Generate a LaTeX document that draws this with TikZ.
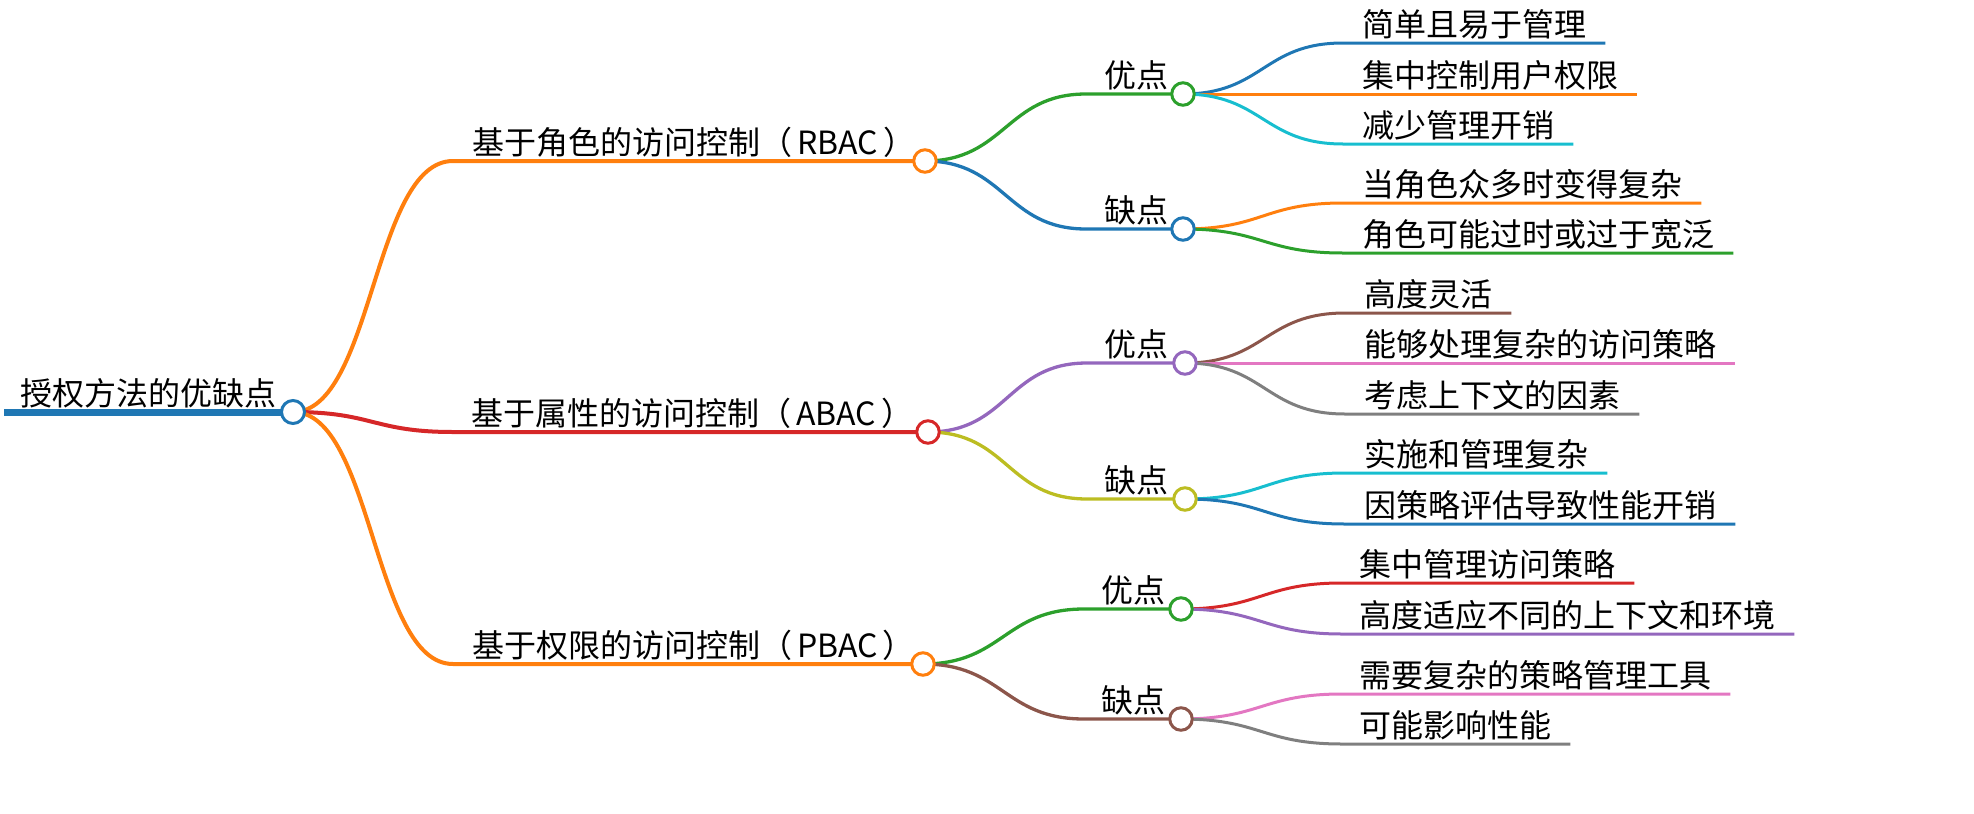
\documentclass[tikz,border=0pt]{standalone}
\usepackage{fontspec}
\setmainfont{Noto Sans CJK SC}
\usetikzlibrary{calc}
\definecolor{cB}{HTML}{1F77B4}
\definecolor{cO}{HTML}{FF7F0E}
\definecolor{cG}{HTML}{2CA02C}
\definecolor{cR}{HTML}{D62728}
\definecolor{cP}{HTML}{9467BD}
\definecolor{cBr}{HTML}{8C564B}
\definecolor{cPk}{HTML}{E377C2}
\definecolor{cGy}{HTML}{7F7F7F}
\definecolor{cOl}{HTML}{BCBD22}
\definecolor{cC}{HTML}{17BECF}
\pgfdeclarelayer{bg}
\pgfsetlayers{bg,main}
\begin{document}
\begin{tikzpicture}[x=1pt,y=-1pt,
  txt/.style={inner sep=0pt, anchor=base west, font=\fontsize{32}{36}\selectfont},
  dot/.style={circle, draw=#1, fill=white, line width=3pt, minimum size=22.5pt, inner sep=0pt},
  lone/.style={draw=#1, line width=4pt},
  ltwo/.style={draw=#1, line width=3.3pt},
  lleaf/.style={draw=#1, line width=3pt}]
\useasboundingbox (0,0) rectangle (1974,814);

% root
\node[txt] (root) at (20,405) {授权方法的优缺点};
\node[dot=cB, minimum size=23pt] (rc) at (293,412) {};
\coordinate (r0) at (4,412);

% level 1
\node[txt] (at) at (472,154) {基于角色的访问控制（\hspace{5pt}RBAC\hspace{5pt}）};
\node[dot=cO] (ac) at (925,161) {};
\coordinate (ak) at (453,161);
\node[txt] (bt) at (471,425) {基于属性的访问控制（\hspace{5pt}ABAC\hspace{5pt}）};
\node[dot=cR] (bc) at (928,432) {};
\coordinate (bk) at (453,432);
\node[txt] (ct) at (472,657) {基于权限的访问控制（\hspace{5pt}PBAC\hspace{5pt}）};
\node[dot=cO] (cc) at (923,664) {};
\coordinate (ck) at (453,664);

% level 2
\node[txt] (apt) at (1104,87) {优点};
\node[dot=cG] (apc) at (1183,94) {};
\coordinate (apk) at (1086,94);
\node[txt] (amt) at (1104,222) {缺点};
\node[dot=cB] (amc) at (1183,229) {};
\coordinate (amk) at (1086,229);

\node[txt] (bpt) at (1104,356) {优点};
\node[dot=cP] (bpc) at (1185,363) {};
\coordinate (bpk) at (1087,363);
\node[txt] (bmt) at (1104,492) {缺点};
\node[dot=cOl] (bmc) at (1185,499) {};
\coordinate (bmk) at (1087,499);

\node[txt] (cpt) at (1101,602) {优点};
\node[dot=cG] (cpc) at (1181,609) {};
\coordinate (cpk) at (1084,609);
\node[txt] (cmt) at (1101,712) {缺点};
\node[dot=cBr] (cmc) at (1181,719) {};
\coordinate (cmk) at (1084,719);

% leaves
\node[txt] (l1) at (1362,36) {简单且易于管理};
\coordinate (k1) at (1343,43);
\node[txt] (l2) at (1362,87) {集中控制用户权限};
\coordinate (k2) at (1343,94);
\node[txt] (l3) at (1362,137) {减少管理开销};
\coordinate (k3) at (1343,144);
\node[txt] (l4) at (1362,196) {当角色众多时变得复杂};
\coordinate (k4) at (1343,203);
\node[txt] (l5) at (1362,246) {角色可能过时或过于宽泛};
\coordinate (k5) at (1343,253);

\node[txt] (l6) at (1364,306) {高度灵活};
\coordinate (k6) at (1345,313);
\node[txt] (l7) at (1364,356) {能够处理复杂的访问策略};
\coordinate (k7) at (1345,363);
\node[txt] (l8) at (1364,407) {考虑上下文的因素};
\coordinate (k8) at (1345,414);
\node[txt] (l9) at (1364,466) {实施和管理复杂};
\coordinate (k9) at (1345,473);
\node[txt] (l10) at (1364,517) {因策略评估导致性能开销};
\coordinate (k10) at (1345,524);

\node[txt] (l11) at (1359,576) {集中管理访问策略};
\coordinate (k11) at (1342,583);
\node[txt] (l12) at (1359,627) {高度适应不同的上下文和环境};
\coordinate (k12) at (1342,634);
\node[txt] (l13) at (1359,687) {需要复杂的策略管理工具};
\coordinate (k13) at (1342,694);
\node[txt] (l14) at (1359,737) {可能影响性能};
\coordinate (k14) at (1342,744);

\begin{pgfonlayer}{bg}
\draw[cB, line width=7pt] (r0) -- (rc.center);
% root -> level 1
\draw[lone=cO] (rc.center) .. controls +(80,0) and +(-80,0) .. (ak) -- (ac.center);
\draw[lone=cR] (rc.center) .. controls +(80,0) and +(-80,0) .. (bk) -- (bc.center);
\draw[lone=cO] (rc.center) .. controls +(80,0) and +(-80,0) .. (ck) -- (cc.center);
% level 1 -> level 2
\draw[ltwo=cG] (ac.center) .. controls +(80,0) and +(-80,0) .. (apk) -- (apc.center);
\draw[ltwo=cB] (ac.center) .. controls +(80,0) and +(-80,0) .. (amk) -- (amc.center);
\draw[ltwo=cP] (bc.center) .. controls +(80,0) and +(-80,0) .. (bpk) -- (bpc.center);
\draw[ltwo=cOl] (bc.center) .. controls +(80,0) and +(-80,0) .. (bmk) -- (bmc.center);
\draw[ltwo=cG] (cc.center) .. controls +(80,0) and +(-80,0) .. (cpk) -- (cpc.center);
\draw[ltwo=cBr] (cc.center) .. controls +(80,0) and +(-80,0) .. (cmk) -- (cmc.center);
% level 2 -> leaves
\draw[lleaf=cB] (apc.center) .. controls +(80,0) and +(-80,0) .. (k1) -- ($(l1.base east)+(19,7)$);
\draw[lleaf=cO] (apc.center) .. controls +(80,0) and +(-80,0) .. (k2) -- ($(l2.base east)+(19,7)$);
\draw[lleaf=cC] (apc.center) .. controls +(80,0) and +(-80,0) .. (k3) -- ($(l3.base east)+(19,7)$);
\draw[lleaf=cO] (amc.center) .. controls +(80,0) and +(-80,0) .. (k4) -- ($(l4.base east)+(19,7)$);
\draw[lleaf=cG] (amc.center) .. controls +(80,0) and +(-80,0) .. (k5) -- ($(l5.base east)+(19,7)$);
\draw[lleaf=cBr] (bpc.center) .. controls +(80,0) and +(-80,0) .. (k6) -- ($(l6.base east)+(19,7)$);
\draw[lleaf=cPk] (bpc.center) .. controls +(80,0) and +(-80,0) .. (k7) -- ($(l7.base east)+(19,7)$);
\draw[lleaf=cGy] (bpc.center) .. controls +(80,0) and +(-80,0) .. (k8) -- ($(l8.base east)+(19,7)$);
\draw[lleaf=cC] (bmc.center) .. controls +(80,0) and +(-80,0) .. (k9) -- ($(l9.base east)+(19,7)$);
\draw[lleaf=cB] (bmc.center) .. controls +(80,0) and +(-80,0) .. (k10) -- ($(l10.base east)+(19,7)$);
\draw[lleaf=cR] (cpc.center) .. controls +(80,0) and +(-80,0) .. (k11) -- ($(l11.base east)+(19,7)$);
\draw[lleaf=cP] (cpc.center) .. controls +(80,0) and +(-80,0) .. (k12) -- ($(l12.base east)+(19,7)$);
\draw[lleaf=cPk] (cmc.center) .. controls +(80,0) and +(-80,0) .. (k13) -- ($(l13.base east)+(19,7)$);
\draw[lleaf=cGy] (cmc.center) .. controls +(80,0) and +(-80,0) .. (k14) -- ($(l14.base east)+(19,7)$);
\end{pgfonlayer}
\end{tikzpicture}
\end{document}
